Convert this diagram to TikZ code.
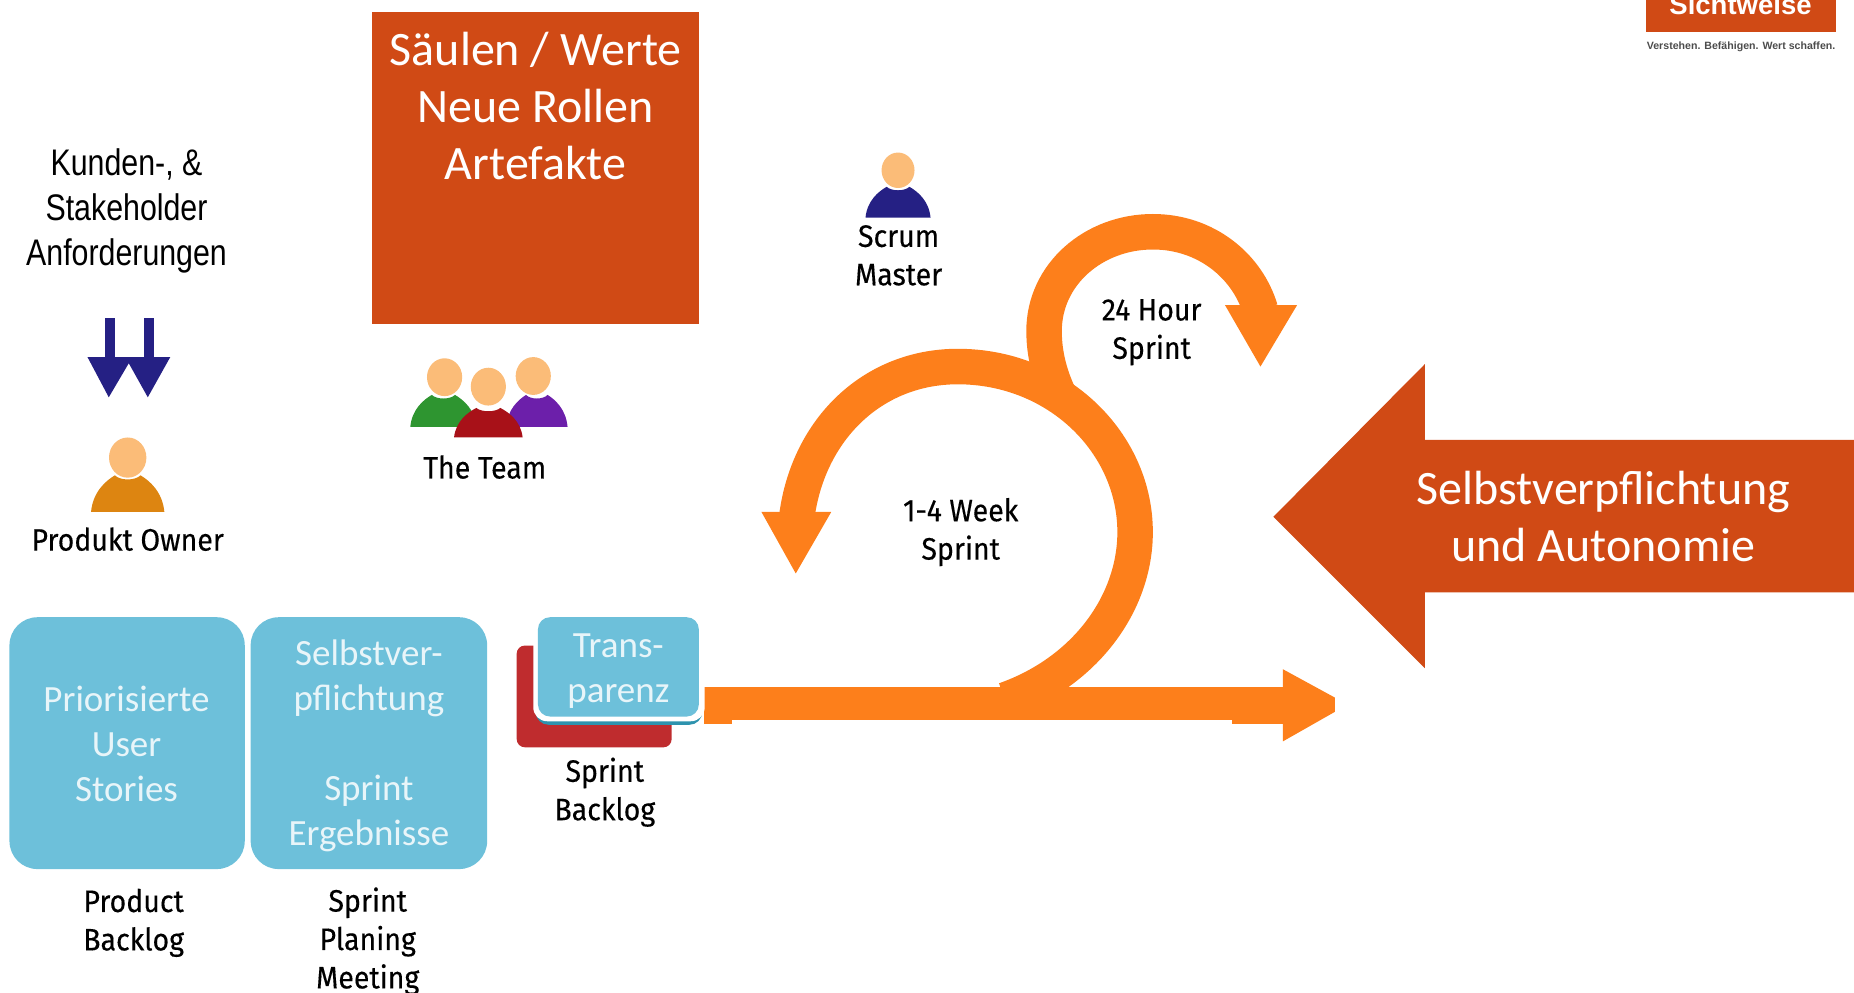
\documentclass[tikz,border=0pt]{standalone}
\usepackage{fontspec}
\setmainfont{Carlito}
\newfontfamily\lblfont[FakeStretch=0.92,FakeBold=0.3]{Fira Sans}
\newfontfamily\narrowfont[FakeStretch=0.82]{Liberation Sans}
\newfontfamily\logofont{Liberation Sans}
\definecolor{spiral}{HTML}{FD7F1B}
\definecolor{rust}{HTML}{D04A15}
\definecolor{sky}{HTML}{6DC0DA}
\definecolor{skytext}{HTML}{E8F5F9}
\definecolor{teal}{HTML}{2E93AE}
\definecolor{navy}{HTML}{252084}
\definecolor{skin}{HTML}{FBBC78}
\definecolor{brickred}{HTML}{BF2C2E}
\definecolor{amber}{HTML}{DD8511}
\definecolor{leaf}{HTML}{2E9530}
\definecolor{crimson}{HTML}{A81118}
\definecolor{plum}{HTML}{6C1FAA}
\tikzset{
  x=1.1824pt,y=-1.1824pt,
  lbl/.style={inner sep=0,align=center,text=black,font=\lblfont\fontsize{31}{38.4}\selectfont},
  boxtxt/.style={inner sep=0,align=center,text=skytext,font=\fontsize{37}{45}\selectfont},
  bigtxt/.style={inner sep=0,align=center,text=white,font=\fontsize{48}{57}\selectfont},
  req/.style={inner sep=0,align=center,text=black,font=\narrowfont\fontsize{37}{45}\selectfont},
  ribbon/.style={draw=spiral,line width=35.5pt,line cap=butt},
}
\newcommand\personfig[8]{% body cx, bottom, half width, height, colour, head cx, head cy, head ry
  \begin{scope}[shift={(#1,#2)},xscale=#3,yscale=-#4]
    \fill[#5] (-1,0) .. controls (-0.95,0.55) and (-0.6,0.85) .. (-0.35,1)
      .. controls (-0.2,0.85) and (0.2,0.85) .. (0.35,1)
      .. controls (0.6,0.85) and (0.95,0.55) .. (1,0) -- cycle;
  \end{scope}
  \fill[skin] (#6,#7) ellipse [x radius=#8*0.93,y radius=#8];
}
\begin{document}
\begin{tikzpicture}
\useasboundingbox (0,0) rectangle (1568,839.8);
\clip (0,0) rectangle (1568,839.8);
% logo
\fill[rust] (1392,-5) rectangle (1553,27);
\node[inner sep=0,text=white,font=\logofont\bfseries\fontsize{27.5}{30}\selectfont] (logo) at (1472,4) {Sichtweise};
\node[inner sep=0,text=black!70,font=\logofont\bfseries\fontsize{10.6}{12}\selectfont] (tagline) at (1472.5,39.5) {Verstehen. Befähigen. Wert schaffen.};
% top block
\fill[rust] (315,10) rectangle (591,274);
\node[bigtxt] (pillars) at (453,89.5) {Säulen / Werte\\Neue Rollen\\Artefakte};
% requirements
\node[req] (reqs) at (107,178.5) {Kunden-, \&\\Stakeholder\\Anforderungen};
\fill[navy] (89,269) rectangle (97,305);
\fill[navy] (122,269) rectangle (130,305);
\fill[navy] (74,302) -- (112,302) -- (92,336) -- cycle;
\fill[navy] (106,302) -- (144,302) -- (125,336) -- cycle;
% product owner
\personfig{108}{433}{31}{31}{amber}{108}{387}{17}
\node[lbl] (po) at (108,456) {Produkt Owner};
% team
\personfig{375}{361}{28}{27}{leaf}{376}{319}{16}
\personfig{454}{361}{26}{27}{plum}{451}{318}{16}
\personfig{413}{370}{29}{25}{crimson}{413}{327}{16}
\node[lbl] (team) at (410,395) {The Team};
% scrum master
\personfig{759.5}{184}{27.5}{26}{navy}{759.5}{144}{15}
\node[lbl] (sm) at (760,216) {Scrum\\Master};
% spiral
\fill[spiral] (595,581) rectangle (1086,609);
\fill[spiral] (595,609) rectangle (619,612);
\fill[spiral] (1042,609) rectangle (1086,612);
\fill[spiral] (1085,566) -- (1129,590) -- (1129,602) -- (1085,627) -- cycle;
\draw[ribbon] (674,436) .. controls (684,363) and (738,310) .. (810,310)
  .. controls (895,310) and (960,375) .. (960,450)
  .. controls (960,510) and (918,568) .. (850,592);
\fill[spiral] (644,433) -- (703,433) -- (673,485) -- cycle;
\draw[ribbon] (896,335) .. controls (888,318) and (883,300) .. (883,280)
  .. controls (883,232) and (925,196) .. (975,196)
  .. controls (1020,196) and (1055,225) .. (1066,262);
\fill[spiral] (1036,258) -- (1097,258) -- (1066,310) -- cycle;
\node[lbl] (week) at (812.5,450) {1-4 Week\\Sprint};
\node[lbl] (day) at (974,281) {24 Hour\\Sprint};
% commitment arrow
\fill[rust] (1077,437) -- (1205,308) -- (1205,372) -- (1568,372) -- (1568,501) -- (1205,501) -- (1205,565) -- cycle;
\node[bigtxt] (commit) at (1356,437) {Selbstverpflichtung\\und Autonomie};
% backlog boxes
\fill[sky,rounded corners=28] (8,522) rectangle (207,735);
\node[boxtxt] (stories) at (107,629) {Priorisierte\\User\\Stories};
\node[lbl] (pb) at (113,780.5) {Product\\Backlog};
\fill[sky,rounded corners=28] (212,522) rectangle (412,735);
\node[boxtxt] (results) at (312,631) {Selbstver-\\pflichtung\\\\Sprint\\Ergebnisse};
\node[lbl] (meeting) at (311,796) {Sprint\\Planing\\Meeting};
\fill[brickred,rounded corners=8] (437,546) rectangle (568,632);
\fill[teal,rounded corners=13] (453,526) rectangle (594,613);
\fill[white,rounded corners=14] (451,520) rectangle (596,610);
\fill[sky,rounded corners=12] (455,522) rectangle (591,606);
\node[boxtxt] (transp) at (523,568) {Trans-\\parenz};
\node[lbl] (sb) at (511.5,670) {Sprint\\Backlog};
\end{tikzpicture}
\end{document}
